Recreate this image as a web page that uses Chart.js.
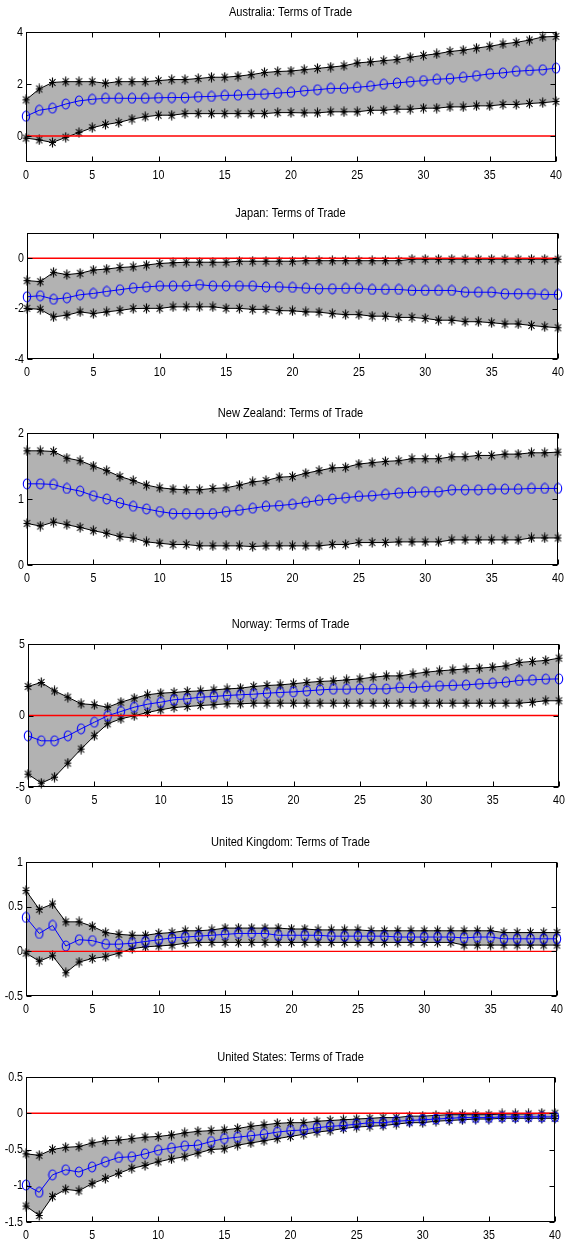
<!DOCTYPE html>
<html>
<head>
<meta charset="utf-8">
<title>Terms of Trade</title>
<script src="https://cdn.jsdelivr.net/npm/chart.js@4.4.0/dist/chart.umd.min.js"></script>
<style>
    body { margin: 0; background: #fff; }
    #wrap { position: relative; width: 581px; height: 1245px; }
    #wrap canvas { position: absolute; left: 0; }
</style>
</head>
<body>
<div id="wrap">
    <canvas id="chart1"></canvas>
    <canvas id="chart2"></canvas>
    <canvas id="chart3"></canvas>
    <canvas id="chart4"></canvas>
    <canvas id="chart5"></canvas>
    <canvas id="chart6"></canvas>
</div>
<script>
/*----------------------------------------------------Data----------------------------------------------------------------------*/
const horizon = [0,1,2,3,4,5,6,7,8,9,10,11,12,13,14,15,16,17,18,19,20,21,22,23,24,25,26,27,28,29,30,31,32,33,34,35,36,37,38,39,40]
const xTicks = [0,5,10,15,20,25,30,35,40]

// Australia
const ausUpper = [1.39,1.81,2.06,2.09,2.09,2.09,2.03,2.09,2.09,2.09,2.13,2.17,2.17,2.21,2.26,2.26,2.3,2.36,2.44,2.48,2.5,2.55,2.6,2.65,2.7,2.81,2.85,2.9,2.94,3.03,3.1,3.16,3.25,3.3,3.38,3.45,3.54,3.6,3.69,3.81,3.83]
const ausMedian = [0.76,0.99,1.07,1.23,1.35,1.41,1.45,1.45,1.45,1.45,1.47,1.48,1.48,1.51,1.52,1.56,1.57,1.6,1.61,1.65,1.68,1.74,1.78,1.83,1.83,1.87,1.92,1.99,2.04,2.09,2.13,2.18,2.21,2.26,2.32,2.39,2.43,2.49,2.52,2.55,2.61]
const ausLower = [-0.08,-0.15,-0.25,-0.05,0.13,0.32,0.44,0.52,0.65,0.74,0.8,0.8,0.86,0.86,0.86,0.86,0.86,0.86,0.86,0.9,0.9,0.89,0.89,0.93,0.93,0.93,0.99,0.99,1.03,1.03,1.07,1.07,1.12,1.12,1.16,1.16,1.21,1.21,1.25,1.28,1.33]
const ausRange = [-1, 4]
const ausTicks = [0, 2, 4]

// Japan
const japUpper = [-0.89,-0.93,-0.56,-0.65,-0.6,-0.47,-0.43,-0.37,-0.34,-0.27,-0.21,-0.18,-0.16,-0.16,-0.16,-0.16,-0.12,-0.12,-0.12,-0.12,-0.12,-0.1,-0.1,-0.1,-0.1,-0.1,-0.1,-0.1,-0.1,-0.04,-0.04,-0.04,-0.04,-0.04,-0.04,-0.04,-0.04,-0.04,-0.04,-0.04,-0.04]
const japMedian = [-1.53,-1.49,-1.63,-1.57,-1.45,-1.4,-1.32,-1.25,-1.18,-1.14,-1.1,-1.1,-1.1,-1.05,-1.1,-1.1,-1.1,-1.1,-1.14,-1.14,-1.16,-1.19,-1.21,-1.21,-1.2,-1.2,-1.24,-1.24,-1.24,-1.28,-1.28,-1.28,-1.28,-1.35,-1.35,-1.35,-1.41,-1.41,-1.41,-1.44,-1.44]
const japLower = [-1.99,-2.03,-2.33,-2.26,-2.13,-2.2,-2.13,-2.07,-2.0,-1.99,-1.99,-1.93,-1.93,-1.93,-1.93,-1.99,-1.99,-2.03,-2.03,-2.08,-2.09,-2.13,-2.14,-2.2,-2.24,-2.24,-2.3,-2.3,-2.35,-2.35,-2.39,-2.46,-2.46,-2.52,-2.52,-2.56,-2.61,-2.61,-2.67,-2.72,-2.76]
const japRange = [-4, 1]
const japTicks = [-4, -2, 0]

// New Zealand
const nzUpper = [1.73,1.73,1.72,1.62,1.58,1.5,1.43,1.34,1.28,1.21,1.17,1.15,1.14,1.14,1.16,1.17,1.21,1.26,1.28,1.33,1.34,1.39,1.43,1.47,1.48,1.53,1.55,1.57,1.58,1.61,1.61,1.61,1.64,1.64,1.66,1.66,1.68,1.68,1.7,1.7,1.71]
const nzMedian = [1.23,1.23,1.22,1.16,1.12,1.05,1.0,0.94,0.89,0.85,0.81,0.78,0.78,0.78,0.78,0.81,0.83,0.86,0.89,0.9,0.92,0.95,0.98,1.0,1.02,1.04,1.05,1.07,1.09,1.1,1.11,1.11,1.14,1.14,1.14,1.15,1.15,1.15,1.16,1.16,1.16]
const nzLower = [0.63,0.59,0.65,0.61,0.57,0.52,0.48,0.43,0.41,0.35,0.33,0.31,0.31,0.29,0.29,0.29,0.29,0.28,0.29,0.29,0.29,0.29,0.29,0.31,0.31,0.34,0.34,0.34,0.35,0.35,0.35,0.35,0.38,0.38,0.38,0.38,0.38,0.38,0.41,0.41,0.41]
const nzRange = [0, 2]
const nzTicks = [0, 1, 2]

// Norway
const norUpper = [2.03,2.31,1.72,1.28,0.82,0.75,0.58,0.93,1.21,1.45,1.56,1.61,1.68,1.72,1.79,1.86,1.91,2.03,2.1,2.14,2.22,2.31,2.38,2.42,2.49,2.56,2.68,2.77,2.77,2.91,3.03,3.12,3.19,3.26,3.31,3.38,3.47,3.71,3.78,3.85,4.01]
const norMedian = [-1.42,-1.77,-1.77,-1.42,-0.93,-0.47,-0.02,0.28,0.58,0.79,0.93,1.1,1.17,1.28,1.33,1.4,1.45,1.49,1.56,1.61,1.65,1.72,1.79,1.84,1.84,1.86,1.86,1.86,1.96,1.96,2.03,2.07,2.1,2.14,2.21,2.26,2.33,2.45,2.49,2.54,2.56]
const norLower = [-4.1,-4.73,-4.31,-3.33,-2.35,-1.42,-0.58,-0.23,-0.02,0.21,0.4,0.56,0.63,0.7,0.75,0.82,0.82,0.86,0.86,0.86,0.86,0.86,0.86,0.86,0.86,0.86,0.86,0.86,0.86,0.86,0.86,0.86,0.86,0.86,0.86,0.86,0.86,0.86,0.93,1.03,1.03]
const norRange = [-5, 5]
const norTicks = [-5, 0, 5]

// United Kingdom
const ukUpper = [0.68,0.47,0.53,0.33,0.33,0.28,0.21,0.19,0.18,0.18,0.2,0.21,0.23,0.23,0.24,0.26,0.26,0.26,0.26,0.26,0.25,0.25,0.24,0.24,0.24,0.24,0.23,0.23,0.23,0.23,0.23,0.23,0.23,0.23,0.23,0.23,0.21,0.21,0.21,0.21,0.21]
const ukMedian = [0.38,0.2,0.29,0.06,0.13,0.12,0.08,0.08,0.09,0.11,0.13,0.15,0.16,0.17,0.18,0.19,0.2,0.2,0.2,0.18,0.18,0.18,0.18,0.17,0.17,0.17,0.17,0.17,0.16,0.16,0.16,0.16,0.16,0.15,0.16,0.16,0.14,0.14,0.14,0.14,0.14]
const ukLower = [-0.02,-0.11,-0.05,-0.24,-0.12,-0.08,-0.06,-0.02,0.03,0.05,0.06,0.07,0.09,0.1,0.1,0.1,0.1,0.1,0.1,0.1,0.1,0.1,0.1,0.1,0.1,0.1,0.1,0.1,0.1,0.1,0.1,0.1,0.1,0.07,0.07,0.07,0.07,0.07,0.07,0.07,0.07]
const ukRange = [-0.5, 1]
const ukTicks = [-0.5, 0, 0.5, 1]

// United States
const usUpper = [-0.56,-0.58,-0.5,-0.47,-0.46,-0.41,-0.38,-0.37,-0.35,-0.33,-0.32,-0.3,-0.27,-0.25,-0.24,-0.23,-0.21,-0.18,-0.16,-0.14,-0.13,-0.13,-0.11,-0.1,-0.09,-0.08,-0.07,-0.06,-0.06,-0.04,-0.04,-0.03,-0.02,-0.02,-0.02,-0.02,-0.01,-0.01,-0.01,0.0,0.0]
const usMedian = [-0.99,-1.09,-0.85,-0.78,-0.81,-0.74,-0.67,-0.61,-0.6,-0.56,-0.51,-0.48,-0.45,-0.44,-0.39,-0.35,-0.33,-0.31,-0.29,-0.26,-0.24,-0.23,-0.2,-0.18,-0.17,-0.15,-0.13,-0.13,-0.11,-0.1,-0.09,-0.08,-0.07,-0.06,-0.06,-0.06,-0.05,-0.05,-0.05,-0.05,-0.05]
const usLower = [-1.28,-1.41,-1.15,-1.05,-1.07,-0.97,-0.9,-0.83,-0.76,-0.72,-0.67,-0.63,-0.6,-0.55,-0.5,-0.49,-0.44,-0.41,-0.38,-0.35,-0.32,-0.29,-0.26,-0.24,-0.21,-0.19,-0.18,-0.17,-0.15,-0.13,-0.13,-0.11,-0.1,-0.09,-0.08,-0.08,-0.07,-0.07,-0.07,-0.07,-0.07]
const usRange = [-1.5, 0.5]
const usTicks = [-1.5, -1, -0.5, 0, 0.5]

/*----------------------------------------------------Layout----------------------------------------------------------------------*/
// plot box of each panel in page pixels
const panelBoxes = [
    { left: 26, top: 32, right: 556, bottom: 162 },
    { left: 27, top: 233, right: 558, bottom: 359 },
    { left: 27, top: 433, right: 558, bottom: 565 },
    { left: 28, top: 644, right: 559, bottom: 787 },
    { left: 26, top: 862, right: 557, bottom: 996 },
    { left: 26, top: 1077, right: 555, bottom: 1222 },
]
const PAGE_W = 581
const TITLE_SPACE = 30
const XAXIS_SPACE = 26
// the original uses a narrow sans (Arial Narrow look): Liberation Sans squeezed horizontally
const TICK_FONT = "13px 'Liberation Sans', Arial, sans-serif"
const TITLE_FONT = "13.5px 'Liberation Sans', Arial, sans-serif"
const SQUEEZE = 0.82

/*----------------------------------------------------Markers (tall, like the stretched original)----------------------------------*/
function makeStar() {
    let c = document.createElement('canvas')
    c.width = 9; c.height = 11
    let g = c.getContext('2d')
    g.strokeStyle = '#000'
    g.lineWidth = 1.15
    g.beginPath()
    g.moveTo(4.5, 0.5); g.lineTo(4.5, 10.5)
    g.moveTo(1, 5.5); g.lineTo(8, 5.5)
    g.moveTo(1.5, 2); g.lineTo(7.5, 9)
    g.moveTo(7.5, 2); g.lineTo(1.5, 9)
    g.stroke()
    return c
}
function makeRing() {
    let c = document.createElement('canvas')
    c.width = 10; c.height = 12
    let g = c.getContext('2d')
    g.strokeStyle = 'rgb(0,0,255)'
    g.lineWidth = 1.1
    g.beginPath()
    g.ellipse(5, 6, 3.7, 5, 0, 0, Math.PI * 2)
    g.stroke()
    return c
}
const starMarker = makeStar()
const ringMarker = makeRing()

function narrowText(ctx, text, x, y, align, font) {
    ctx.save()
    ctx.translate(x, y)
    ctx.scale(SQUEEZE, 1)
    ctx.font = font
    ctx.fillStyle = '#000'
    ctx.textAlign = align
    ctx.textBaseline = 'middle'
    ctx.fillText(text, 0, 0)
    ctx.restore()
}

// matlab-like box with inward ticks on all four sides, tick labels and title
const matlabAxes = {
    id: 'matlabAxes',
    afterDraw(chart, args, opts) {
        let ctx = chart.ctx
        let a = chart.chartArea
        let sx = chart.scales.x
        let sy = chart.scales.y
        let L = Math.round(a.left) + 0.5, R = Math.round(a.right) - 0.5
        let T = Math.round(a.top) + 0.5, B = Math.round(a.bottom) - 0.5
        ctx.save()
        ctx.strokeStyle = '#000'
        ctx.lineWidth = 1
        ctx.beginPath()
        sx.ticks.forEach(t => {
            let px = Math.round(sx.getPixelForValue(t.value)) + 0.5
            ctx.moveTo(px, B); ctx.lineTo(px, B - 5)
            ctx.moveTo(px, T); ctx.lineTo(px, T + 5)
        })
        sy.ticks.forEach(t => {
            let py = Math.round(sy.getPixelForValue(t.value)) + 0.5
            ctx.moveTo(L, py); ctx.lineTo(L + 5, py)
            ctx.moveTo(R, py); ctx.lineTo(R - 5, py)
        })
        ctx.stroke()
        ctx.strokeRect(L, T, R - L, B - T)
        ctx.restore()

        sx.ticks.forEach(t => narrowText(ctx, String(t.value), sx.getPixelForValue(t.value), a.bottom + 13.5, 'center', TICK_FONT))
        sy.ticks.forEach(t => narrowText(ctx, String(t.value), a.left - 3, sy.getPixelForValue(t.value), 'right', TICK_FONT))
        narrowText(ctx, opts.title, chart.width / 2, a.top - 19.5, 'center', TITLE_FONT)
    }
}

function toPoints(values) {
    return values.map((v, i) => ({ x: horizon[i], y: v }))
}

function drawPanel(n, title, upper, median, lower, yRange, yTicks) {
    let box = panelBoxes[n - 1]
    let canvas = document.getElementById('chart' + n)
    canvas.width = PAGE_W
    canvas.height = box.bottom - box.top + TITLE_SPACE + XAXIS_SPACE
    canvas.style.top = (box.top - TITLE_SPACE) + 'px'

    new Chart(canvas, {
        type: 'line',
        data: {
            datasets: [
                {
                    label: 'upper',
                    data: toPoints(upper),
                    borderColor: '#000',
                    borderWidth: 1,
                    backgroundColor: 'rgb(178,178,178)',
                    fill: '+1',
                    pointStyle: starMarker,
                    clip: 8,
                    order: 2,
                },
                {
                    label: 'lower',
                    data: toPoints(lower),
                    borderColor: '#000',
                    borderWidth: 1,
                    fill: false,
                    pointStyle: starMarker,
                    clip: 8,
                    order: 3,
                },
                {
                    label: 'median',
                    data: toPoints(median),
                    borderColor: 'rgb(0,0,255)',
                    borderWidth: 1,
                    fill: false,
                    pointStyle: ringMarker,
                    clip: 8,
                    order: 1,
                },
                {
                    label: 'zero',
                    data: [{ x: horizon[0], y: 0 }, { x: horizon[horizon.length - 1], y: 0 }],
                    borderColor: 'rgb(255,0,0)',
                    borderWidth: 1.4,
                    fill: false,
                    pointRadius: 0,
                    order: 0,
                },
            ]
        },
        options: {
            responsive: false,
            animation: false,
            devicePixelRatio: 1,
            layout: { padding: { left: 0, right: PAGE_W - box.right, top: TITLE_SPACE, bottom: 0 } },
            plugins: {
                legend: { display: false },
                tooltip: { enabled: false },
                title: { display: false },
                filler: { drawTime: 'beforeDatasetsDraw' },
                matlabAxes: { title: title },
            },
            scales: {
                x: {
                    type: 'linear',
                    min: horizon[0],
                    max: horizon[horizon.length - 1],
                    grid: { display: false, drawTicks: false },
                    border: { display: false },
                    ticks: { display: false },
                    afterBuildTicks: s => { s.ticks = xTicks.map(v => ({ value: v })) },
                    afterFit: s => { s.height = XAXIS_SPACE },
                },
                y: {
                    type: 'linear',
                    min: yRange[0],
                    max: yRange[1],
                    grid: { display: false, drawTicks: false },
                    border: { display: false },
                    ticks: { display: false },
                    afterBuildTicks: s => { s.ticks = yTicks.map(v => ({ value: v })) },
                    afterFit: s => { s.width = box.left },
                },
            },
        },
        plugins: [matlabAxes],
    })
}

/*----------------------------------------------------Draw Charts-----------------------------------------------------------------------*/
drawPanel(1, 'Australia: Terms of Trade', ausUpper, ausMedian, ausLower, ausRange, ausTicks)
drawPanel(2, 'Japan: Terms of Trade', japUpper, japMedian, japLower, japRange, japTicks)
drawPanel(3, 'New Zealand: Terms of Trade', nzUpper, nzMedian, nzLower, nzRange, nzTicks)
drawPanel(4, 'Norway: Terms of Trade', norUpper, norMedian, norLower, norRange, norTicks)
drawPanel(5, 'United Kingdom: Terms of Trade', ukUpper, ukMedian, ukLower, ukRange, ukTicks)
drawPanel(6, 'United States: Terms of Trade', usUpper, usMedian, usLower, usRange, usTicks)
</script>
</body>
</html>
